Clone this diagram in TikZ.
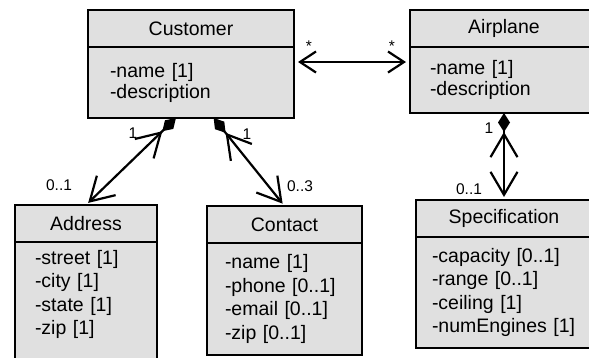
\documentclass[tikz,border=0pt]{standalone}
\usepackage{fontspec}
\setmainfont{Liberation Sans}
\usetikzlibrary{arrows.meta,calc}

\begin{document}
\begin{tikzpicture}[x=1pt,y=-1pt,
        classname/.style={draw,rectangle,line width=2.8pt,fill=black!12,anchor=north west,outer sep=0pt,inner sep=0pt,minimum height=37pt,font=\fontsize{19.5}{21}\selectfont},
        classattr/.style={draw,rectangle,line width=2.8pt,fill=black!12,anchor=north west,outer sep=0pt,inner ysep=0pt,align=left,font=\fontsize{19.5}{21}\selectfont},
        longattr/.style={classattr,font=\fontsize{19.5}{23.5}\selectfont},
        mult/.style={inner sep=0pt,font=\fontsize{15.5}{17}\selectfont},
        nav/.style={line width=2.2pt,{Straight Barb[length=16pt,width=21pt]}-{Straight Barb[length=16pt,width=21pt]},shorten <=4pt,shorten >=4pt},
        compose/.style={line width=2.2pt,{Diamond[length=19pt,width=12pt]Straight Barb[length=23pt,width=27pt]}-{Straight Barb[length=23pt,width=27pt]},shorten >=3pt}]
        \useasboundingbox(0,0)rectangle(589,357);
        \clip(0,0)rectangle(589,357);
        \node(customer)at(88,10)[classname,minimum width=206pt]{Customer};
        \node(customerattr)at(customer.south west)[classattr,inner xsep=22pt,text width=162pt,minimum height=71pt]{-name [1]\\-description};
        \node(airplane)at(410,10)[classname,minimum width=188pt]{Airplane};
        \node(airplaneattr)at(airplane.south west)[classattr,inner xsep=20pt,text width=148pt,minimum height=66pt]{-name [1]\\-description};
        \node(address)at(15,205)[classname,minimum width=142pt]{Address};
        \node(addressattr)at(address.south west)[longattr,inner xsep=20pt,text width=102pt,minimum height=120pt,text depth=90pt]{-street [1]\\-city [1]\\-state [1]\\-zip [1]};
        \node(contact)at(207,206)[classname,minimum width=155pt]{Contact};
        \node(contactattr)at(contact.south west)[longattr,inner xsep=18pt,text width=119pt,minimum height=112pt]{-name [1]\\-phone [0..1]\\-email [0..1]\\-zip [0..1]};
        \node(spec)at(416,200)[classname,minimum width=176pt]{Specification};
        \node(specattr)at(spec.south west)[longattr,inner xsep=16pt,text width=144pt,minimum height=111pt]{-capacity [0..1]\\-range [0..1]\\-ceiling [1]\\-numEngines [1]};
        \node(custmult)at(309,46)[mult]{*};
        \node(planemult)at(392,46)[mult]{*};
        \node(addrownmult)at(133,133)[mult]{1};
        \node(addrmult)at(59,185)[mult]{0..1};
        \node(contownmult)at(247,134)[mult]{1};
        \node(contmult)at(300,186)[mult]{0..3};
        \node(specownmult)at(489,128)[mult]{1};
        \node(specmult)at(469,189)[mult]{0..1};
        \draw[nav]($(customerattr.north east)+(0,15)$)--($(airplaneattr.north west)+(0,15)$);
        \draw[compose]($(customerattr.south west)!0.427!(customerattr.south east)$)--(address.north);
        \draw[compose]($(customerattr.south west)!0.61!(customerattr.south east)$)--(contact.north);
        \draw[compose](airplaneattr.south)--(spec.north);
    \end{tikzpicture}
\end{document}
